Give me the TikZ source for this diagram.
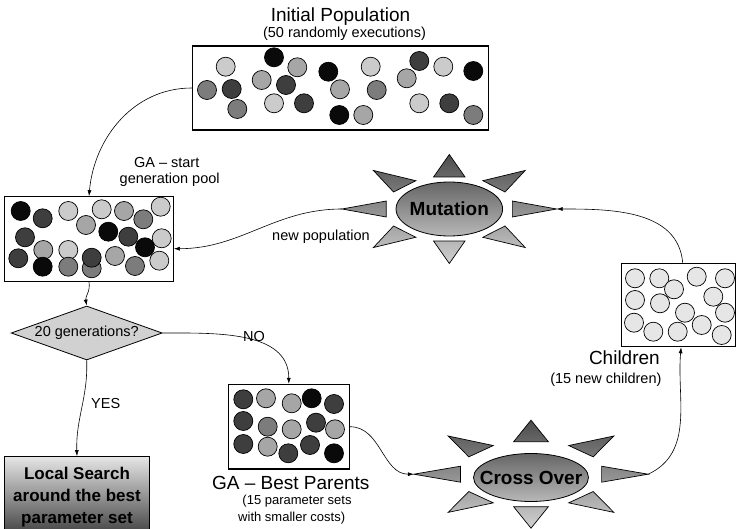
\documentclass[tikz,border=0pt]{standalone}
\usepackage{fontspec}
\setmainfont{Liberation Sans}
\usetikzlibrary{shapes.geometric,arrows.meta,positioning}

\definecolor{ballK}{HTML}{0A0A0A}
\definecolor{ballD}{HTML}{3E3E3E}
\definecolor{ballM}{HTML}{7C7C7C}
\definecolor{ballS}{HTML}{A6A6A6}
\definecolor{ballL}{HTML}{CBCBCB}
\definecolor{ballW}{HTML}{E6E6E6}

\newcommand{\balls}[1]{\foreach \bx/\by/\bc in {#1}{\filldraw[ball, fill=\bc] (\bx,-\by) circle (9.5);}}

\begin{document}
\begin{tikzpicture}[
    x=1pt, y=1pt,
    pop/.style={
        rectangle,
        draw=black,
        line width=1.1pt,
        fill=white,
        inner sep=0pt
    },
    ball/.style={
        draw=black,
        line width=0.7pt
    },
    sunbody/.style={
        ellipse,
        draw=black,
        line width=0.8pt,
        top color=black!60,
        bottom color=black!28,
        inner sep=0pt
    },
    rays/.style={
        draw=black,
        line width=0.7pt,
        top color=black!70,
        bottom color=black!18
    },
    suntext/.style={font=\fontsize{19}{22}\selectfont\bfseries},
    decision/.style={
        diamond,
        draw=black,
        line width=0.8pt,
        fill=black!18,
        inner sep=0pt,
        minimum width=151pt,
        minimum height=54pt
    },
    search/.style={
        rectangle,
        draw=black,
        line width=1.1pt,
        top color=black!10,
        bottom color=black!76,
        minimum width=144.6pt,
        minimum height=80.3pt,
        align=center,
        font=\fontsize{17}{22}\selectfont\bfseries
    },
    title/.style={font=\fontsize{19}{22}\selectfont},
    note/.style={font=\fontsize{14.5}{16}\selectfont},
    smallnote/.style={font=\fontsize{13}{15}\selectfont},
    arrow/.style={
        ->,
        >={Latex[length=6pt,width=4pt]},
        line width=0.6pt
    }
]
\useasboundingbox (0,0) rectangle (737,-529);

% Initial population
\node[title, anchor=base] (inittitle) at (340.5,-21.7) {Initial Population};
\node[note, anchor=base] (initsub) at (344.5,-37.5) {(50 randomly executions)};
\node[pop, minimum width=296pt, minimum height=84pt] (init) at (340.3,-88) {};
\balls{225.7/66.7/ballL, 207/90/ballM, 231.7/89/ballD, 237.3/109/ballM, 274/57.3/ballK,
  297.3/67.3/ballS, 261.7/80/ballS, 286/85/ballD, 274/103.3/ballL, 304/103.3/ballD,
  328.3/71.7/ballK, 340/89.3/ballS, 339.3/115/ballK, 363.3/115/ballS, 370.7/66.7/ballL,
  376.7/90/ballM, 406.7/78.3/ballS, 419.3/61/ballD, 443.3/66.7/ballL, 473.3/71/ballK,
  419.3/103.3/ballL, 449.3/103.3/ballD, 473.3/115/ballM}

% GA start pool
\node[note, anchor=base] (startlbl) at (166.7,-167.3) {GA -- start};
\node[note, anchor=base] (poollbl) at (169.7,-183.3) {generation pool};
\node[pop, minimum width=168.6pt, minimum height=85pt] (pool) at (89,-239.2) {};
\balls{20.7/211/ballK, 42.7/218.3/ballD, 68.3/211/ballL, 101.7/209.3/ballL, 86/225/ballS,
  124/211/ballS, 143.3/219.3/ballM, 160.7/206.7/ballL, 25/237.3/ballD, 43.3/250/ballS,
  68.3/250/ballL, 108.3/231.7/ballK, 128.3/236.7/ballD, 161.7/238.3/ballL, 18.3/258.3/ballD,
  42.7/266.7/ballK, 68.3/266.7/ballM, 91.7/268.3/ballM, 91.7/257.7/ballD, 115/256/ballS,
  135/266/ballM, 145/247.3/ballK, 159.3/260.7/ballL}

% Decision
\node[decision, label={[note]center:20 generations?}] (gen) at (86.7,-333) {};
\node[note] (nolbl) at (254,-336.7) {NO};
\node[note] (yeslbl) at (105.7,-404) {YES};

% Local search
\node[search] (local) at (77,-496.85) {Local Search\\around the best\\parameter set};

% Best parents
\node[pop, minimum width=121pt, minimum height=84.7pt] (parents) at (288.8,-426.7) {};
\balls{243.3/399.3/ballD, 266/398.3/ballS, 291.7/403.3/ballS, 311.7/398.3/ballK, 334/404/ballD,
  243.3/421/ballD, 267.7/426.7/ballM, 291.7/429.3/ballS, 316/422.7/ballD, 335/429.3/ballS,
  243.3/444/ballD, 267.7/446.7/ballS, 288.3/453.3/ballD, 310/445/ballD, 334/453.3/ballK}
\node[title, anchor=base] (parenttitle) at (290.8,-489.3) {GA -- Best Parents};
\node[smallnote, anchor=base] (parentsub) at (297,-504.5) {(15 parameter sets};
\node[smallnote, anchor=base] (parentsub2) at (291.7,-521) {with smaller costs)};

% Children
\node[pop, minimum width=114pt, minimum height=83.4pt] (children) at (678.7,-305) {};
\foreach \bx/\by in {635/278.3, 659.3/278.3, 696.7/276.7, 725/278.3, 674/289.3, 713.3/296.7,
  635/300, 660/303.3, 685/312.7, 725/312.7, 634/322.7, 653.3/331.7, 677.7/331.7,
  701.7/325, 721.7/335}
  \filldraw[ball, fill=ballW] (\bx,-\by) circle (9.5);
\node[title, anchor=base east] (childtitle) at (663.3,-365) {Children};
\node[note, anchor=base east] (childsub) at (665,-383.3) {(15 new children)};

% Mutation
\node[sunbody, minimum width=106.6pt, minimum height=54pt, label={[suntext]center:Mutation}] (mut) at (449.3,-209) {};
\begin{scope}[shift={(mut.center)}, xscale=1.97]
  \path[rays] \foreach \a in {0,45,...,315} {({\a+14}:33) -- (\a:54.5) -- ({\a-14}:33) -- cycle};
  \coordinate (mutL) at (180:54.5);
  \coordinate (mutR) at (0:54.5);
\end{scope}
\node[note, anchor=base] (newpop) at (321,-240.7) {new population};

% Cross over
\node[sunbody, minimum width=115pt, minimum height=48pt, label={[suntext]center:Cross Over}] (cross) at (531,-477.5) {};
\begin{scope}[shift={(531,-474.2)}, xscale=2.17]
  \path[rays] \foreach \a in {0,45,...,315} {({\a+13.8}:33.5) -- (\a:54) -- ({\a-13.8}:33.5) -- cycle};
  \coordinate (crossL) at (180:54);
  \coordinate (crossR) at (0:54);
\end{scope}

% Connectors
\draw[arrow] (init.west) to[out=180, in=85] (pool.north);
\draw[arrow] (pool.south) to[out=-80, in=100] (gen.north);
\draw[arrow] (gen.east) to[out=0, in=90] (parents.north);
\draw[arrow] (gen.south) to[out=-88, in=92] (local.north);
\draw[arrow] (parents.east) to[out=0, in=180] (crossL);
\draw[arrow] (crossR) to[out=25, in=-95] ([xshift=2.4pt]children.south);
\draw[arrow] ([xshift=4pt]children.north) to[out=95, in=0] (mutR);
\draw[arrow] (mutL) to[out=180, in=0] ([yshift=-9.5pt]pool.east);

\end{tikzpicture}
\end{document}
